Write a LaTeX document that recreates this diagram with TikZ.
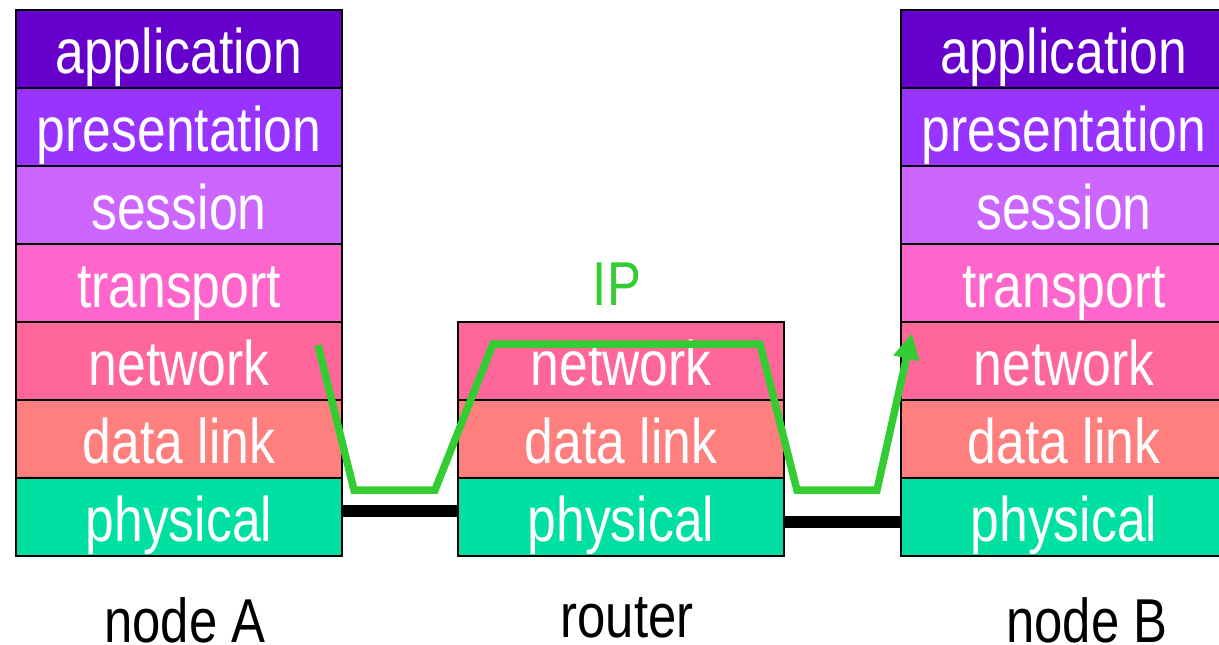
\documentclass[tikz,border=0pt]{standalone}
\usepackage{fontspec}
\setmainfont{Liberation Sans}[FakeStretch=0.82]
\usetikzlibrary{arrows.meta}

\definecolor{cApp}{HTML}{6600CC}
\definecolor{cPres}{HTML}{9933FF}
\definecolor{cSess}{HTML}{CC66FF}
\definecolor{cTrans}{HTML}{FF66CC}
\definecolor{cNet}{HTML}{FF6699}
\definecolor{cLink}{HTML}{FF7F7F}
\definecolor{cPhys}{HTML}{00E0A3}
\definecolor{cPath}{HTML}{33CC33}

\tikzset{
  layer/.style={draw=black, line width=1.5pt, minimum width=326pt, minimum height=78pt,
    inner sep=0pt, text height=48pt, text depth=0pt, text=white,
    font=\fontsize{63}{70}\selectfont},
  caption/.style={anchor=base, inner sep=0pt, text height=46pt, text depth=0pt,
    font=\fontsize{62}{70}\selectfont},
  wire/.style={line width=12pt, black},
  route/.style={line width=7.5pt, cPath, line join=miter}
}

\begin{document}
\begin{tikzpicture}[x=1pt, y=-1pt]
\useasboundingbox (0,0) rectangle (1219,645);
\begin{scope}
\clip (0,0) rectangle (1219,645);

% host A: full seven-layer stack
\node[layer, fill=cApp]   (A0) at (179, 49) {application};
\node[layer, fill=cPres]  (A1) at (179,127) {presentation};
\node[layer, fill=cSess]  (A2) at (179,205) {session};
\node[layer, fill=cTrans] (A3) at (179,283) {transport};
\node[layer, fill=cNet]   (A4) at (179,361) {network};
\node[layer, fill=cLink]  (A5) at (179,439) {data link};
\node[layer, fill=cPhys]  (A6) at (179,517) {physical};

% router: lower three layers
\node[layer, fill=cNet]   (R4) at (621,361) {network};
\node[layer, fill=cLink]  (R5) at (621,439) {data link};
\node[layer, fill=cPhys]  (R6) at (621,517) {physical};

% host B: full seven-layer stack
\node[layer, fill=cApp]   (B0) at (1064, 49) {application};
\node[layer, fill=cPres]  (B1) at (1064,127) {presentation};
\node[layer, fill=cSess]  (B2) at (1064,205) {session};
\node[layer, fill=cTrans] (B3) at (1064,283) {transport};
\node[layer, fill=cNet]   (B4) at (1064,361) {network};
\node[layer, fill=cLink]  (B5) at (1064,439) {data link};
\node[layer, fill=cPhys]  (B6) at (1064,517) {physical};

% physical links
\draw[wire] ([yshift=6pt]A6.east) -- ([yshift=6pt]R6.west);
\draw[wire] ([yshift=-5pt]R6.east) -- ([yshift=-5pt]B6.west);

% packet route through the stacks
\coordinate (p0) at (318,345);
\coordinate (p1) at (354,490);
\coordinate (p2) at (435,490);
\coordinate (p3) at (493,344);
\coordinate (p4) at (760,344);
\coordinate (p5) at (797,490);
\coordinate (p6) at (877,490);
\coordinate (p7) at (912,333);
\draw[route, -{Triangle[length=26pt,width=25pt]}]
  (p0) -- (p1) -- (p2) -- (p3) -- (p4) -- (p5) -- (p6) -- (p7);

% captions
\node[caption, text=cPath] (ip) at (617,305) {IP};
\node[caption] (capA) at (185,642) {node A};
\node[caption] (capR) at (627,637) {router};
\node[caption] (capB) at (1087,642) {node B};
\end{scope}
\end{tikzpicture}
\end{document}
